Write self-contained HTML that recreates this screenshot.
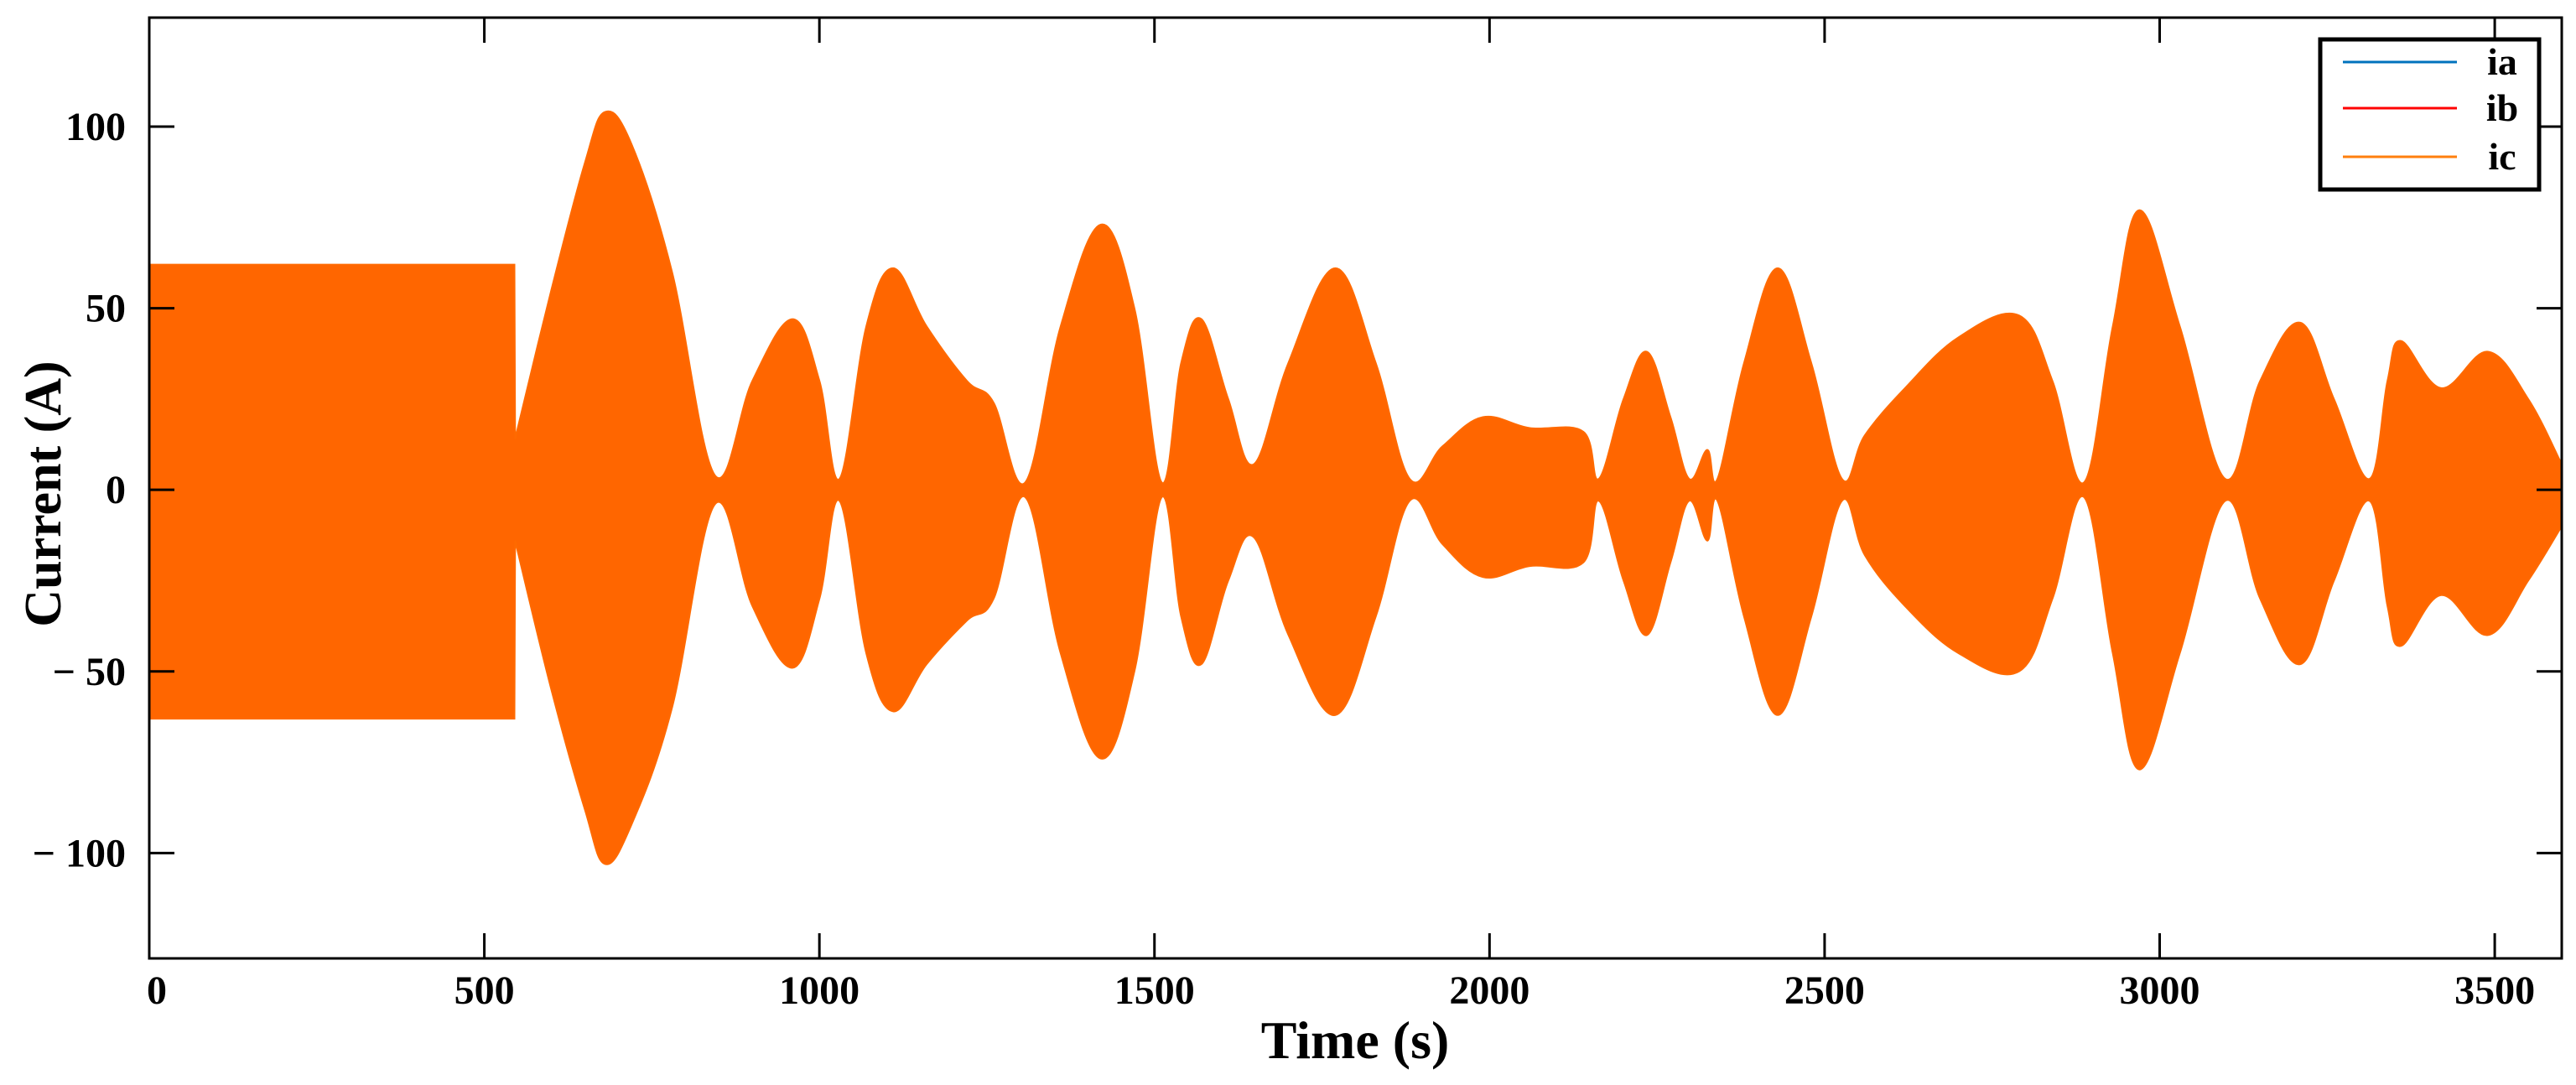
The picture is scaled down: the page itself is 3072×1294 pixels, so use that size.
<!DOCTYPE html>
<html>
<head>
<meta charset="utf-8">
<style>
  html,body{margin:0;padding:0;background:#fff;}
  svg{display:block;}
  text{font-family:"Liberation Serif",serif;font-weight:bold;fill:#000;}
</style>
</head>
<body>
<svg id="chart" width="3072" height="1294" viewBox="0 0 3072 1294" xmlns="http://www.w3.org/2000/svg">
  <g id="plot"></g>
  <g id="axes"></g>
  <g id="legend">
    <rect x="2767" y="47" width="261" height="179" fill="#fff" stroke="#000" stroke-width="5"/>
    <line x1="2794" y1="74" x2="2930" y2="74" stroke="#0072bd" stroke-width="3"/>
    <text x="2984" y="89" font-size="46" text-anchor="middle">ia</text>
    <line x1="2794" y1="129" x2="2930" y2="129" stroke="#ff0000" stroke-width="3"/>
    <text x="2984" y="144" font-size="46" text-anchor="middle">ib</text>
    <line x1="2794" y1="187" x2="2930" y2="187" stroke="#ff7f0e" stroke-width="3"/>
    <text x="2984" y="202" font-size="46" text-anchor="middle">ic</text>
  </g>
  <text x="1616" y="1262" font-size="64" text-anchor="middle">Time (s)</text>
  <text transform="translate(72,589) rotate(-90)" font-size="62" text-anchor="middle">Current (A)</text>
</svg>
<script>
const times = [0,545,546,600,650,680,720,780,844,900,960,1000,1030,1070,1110,1160,1220,1260,1307,1360,1420,1470,1511,1540,1570,1610,1648,1700,1770,1830,1881,1930,1990,2060,2140,2163,2200,2235,2270,2298,2325,2340,2380,2430,2480,2526,2560,2620,2700,2790,2840,2887,2930,2970,3030,3098,3150,3210,3260,3313,3340,3360,3420,3490,3550,3600];
const upperEnv = [62,62,14,55,90,104,95,60,4,30,47,30,3,45,61,45,30,24,2,45,73,50,2,35,47,25,7,35,61,35,3,12,20,17,16,3,25,38,20,3,11,3,35,61,35,3,15,28,42,48,30,2,45,77,45,3,30,46,25,3,30,41,28,38,25,7];
const lowerEnv = [-63,-63,-14,-55,-88,-103,-92,-60,-4,-32,-49,-30,-3,-45,-61,-48,-36,-30,-2,-45,-74,-50,-2,-35,-48,-25,-13,-40,-62,-35,-3,-15,-24,-21,-20,-3,-25,-40,-20,-3,-14,-3,-35,-62,-35,-3,-18,-32,-45,-50,-30,-2,-45,-77,-45,-3,-30,-48,-25,-3,-32,-43,-29,-40,-25,-10];
const xTicks = [0,500,1000,1500,2000,2500,3000,3500];
const yTicks = [-100,-50,0,50,100];
const yTickLabels = ["\u2212 100","\u2212 50","0","50","100"];

const X0=178, X1=3055, Y0=21, Y1=1143;
const xMin=0, xMax=3600, yMin=-129, yMax=130;
const xs = v => X0 + (v-xMin)/(xMax-xMin)*(X1-X0);
const ys = v => Y1 - (v-yMin)/(yMax-yMin)*(Y1-Y0);
const NS="http://www.w3.org/2000/svg";
const plot=document.getElementById('plot');
const axes=document.getElementById('axes');

function curve(pts, start){
  let s = (start?"M":"L")+pts[0][0].toFixed(1)+","+pts[0][1].toFixed(1);
  const t=0.18;
  for(let i=0;i<pts.length-1;i++){
    let p0=pts[Math.max(0,i-1)], p1=pts[i], p2=pts[i+1], p3=pts[Math.min(pts.length-1,i+2)];
    if(Math.abs(p2[0]-p1[0])<5){ s+="L"+p2[0].toFixed(1)+","+p2[1].toFixed(1); continue; }
    if(Math.abs(p1[0]-p0[0])<5) p0=p1;
    if(Math.abs(p3[0]-p2[0])<5) p3=p2;
    const c1=[p1[0]+(p2[0]-p0[0])*t, p1[1]+(p2[1]-p0[1])*t];
    const c2=[p2[0]-(p3[0]-p1[0])*t, p2[1]-(p3[1]-p1[1])*t];
    s+="C"+c1[0].toFixed(1)+","+c1[1].toFixed(1)+" "+c2[0].toFixed(1)+","+c2[1].toFixed(1)+" "+p2[0].toFixed(1)+","+p2[1].toFixed(1);
  }
  return s;
}
const up = times.map((t,i)=>[xs(t), ys(upperEnv[i])]);
const lo = times.map((t,i)=>[xs(t), ys(lowerEnv[i])]).reverse();
const d = curve(up,true) + curve(lo,false) + "Z";
const env=document.createElementNS(NS,'path');


env.setAttribute('d',d);
env.setAttribute('fill','#ff6600');
env.setAttribute('stroke','#ff6a00');
env.setAttribute('stroke-width','2');
plot.appendChild(env);

const frame=document.createElementNS(NS,'rect');


frame.setAttribute('x',X0);frame.setAttribute('y',Y0);
frame.setAttribute('width',X1-X0);frame.setAttribute('height',Y1-Y0);
frame.setAttribute('fill','none');frame.setAttribute('stroke','#000');frame.setAttribute('stroke-width','3');
axes.appendChild(frame);

function line(x1,y1,x2,y2,name){
  const l=document.createElementNS(NS,'line');
  
  
  l.setAttribute('x1',x1);l.setAttribute('y1',y1);l.setAttribute('x2',x2);l.setAttribute('y2',y2);
  l.setAttribute('stroke','#000');l.setAttribute('stroke-width','3');
  axes.appendChild(l);
}
xTicks.forEach(v=>{
  const x=xs(v);
  line(x,Y1,x,Y1-30,'x-tick');
  line(x,Y0,x,Y0+30,'x-tick-top');
  const t=document.createElementNS(NS,'text');
  
  
  t.setAttribute('x',v===0?x+9:x);t.setAttribute('y',1197);
  t.setAttribute('font-size','48');t.setAttribute('text-anchor','middle');
  t.textContent=String(v);
  axes.appendChild(t);
});
yTicks.forEach((v,i)=>{
  const y=ys(v);
  line(X0,y,X0+30,y,'y-tick');
  line(X1,y,X1-30,y,'y-tick-right');
  const t=document.createElementNS(NS,'text');
  
  
  t.setAttribute('x',150);t.setAttribute('y',y+16);
  t.setAttribute('font-size','48');t.setAttribute('text-anchor','end');
  t.textContent=yTickLabels[i];
  axes.appendChild(t);
});
</script>
</body>
</html>
